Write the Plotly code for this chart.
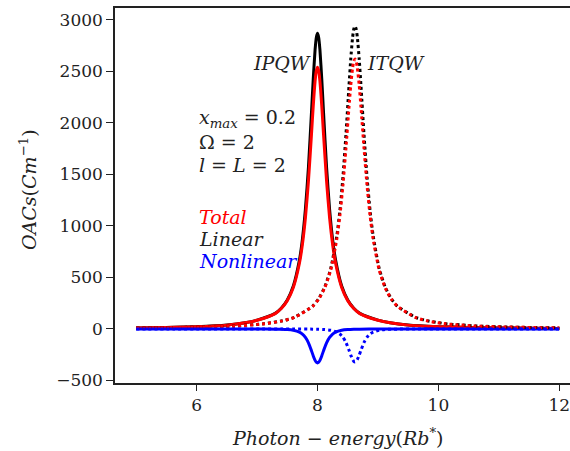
import plotly.graph_objects as go

# ---- IPQW (solid curves, peak near 8.0) ----
x_ipqw = [5.0, 5.5, 6.0, 6.5, 6.8, 7.0, 7.3, 7.4, 7.5, 7.6, 7.7, 7.75, 7.8, 7.85, 7.9,
          7.93, 7.96, 7.98, 8.0, 8.02, 8.04, 8.07, 8.1, 8.15, 8.2, 8.25, 8.3, 8.4,
          8.5, 8.6, 8.7, 9.0, 9.2, 9.5, 10.0, 10.5, 11.0, 11.5, 12.0]
linear_ipqw = [10, 14, 22, 38, 60, 85, 151, 201, 281, 416, 666, 870, 1162, 1570, 2098,
               2431, 2711, 2828, 2870, 2828, 2711, 2431, 2098, 1570, 1162, 870, 666, 416,
               281, 201, 151, 85, 60, 38, 22, 14, 10, 7, 5]
nonlinear_ipqw = [0, 0, -1, -1, -1, -1, -2, -3, -6, -13, -31, -50, -83, -135, -211,
                  -262, -305, -323, -330, -323, -305, -262, -211, -135, -83, -50, -31, -13,
                  -6, -3, -2, -1, -1, -1, 0, 0, 0, 0, 0]
total_ipqw = [10, 14, 21, 37, 59, 84, 149, 198, 275, 403, 635, 820, 1079, 1435, 1887,
              2169, 2406, 2505, 2540, 2505, 2406, 2169, 1887, 1435, 1079, 820, 635, 403,
              275, 198, 149, 84, 59, 37, 22, 14, 10, 7, 5]

# ---- ITQW (dotted curves, peak near 8.62) ----
x_itqw = [5.0, 5.62, 6.12, 6.62, 7.12, 7.42, 7.62, 7.92, 8.02, 8.12, 8.22, 8.32, 8.37,
          8.42, 8.47, 8.52, 8.55, 8.58, 8.60, 8.62, 8.64, 8.66, 8.69, 8.72, 8.77, 8.82,
          8.87, 8.92, 9.02, 9.12, 9.22, 9.32, 9.62, 9.82, 10.12, 10.62, 11.12, 11.62, 12.0]
linear_itqw = [9, 13, 19, 29, 51, 79, 113, 222, 294, 406, 588, 906, 1147,
               1470, 1882, 2352, 2620, 2827, 2911, 2940, 2911, 2827, 2620, 2352, 1882, 1470,
               1147, 906, 588, 406, 294, 222, 113, 79, 51, 29, 19, 13, 10]
nonlinear_itqw = [0, 0, 0, -1, -1, -1, -1, -2, -3, -6, -13, -30, -49,
                  -80, -131, -205, -254, -296, -314, -320, -314, -296, -254, -205, -131, -80,
                  -49, -30, -13, -6, -3, -2, -1, -1, -1, 0, 0, 0, 0]
total_itqw = [9, 13, 19, 28, 50, 78, 112, 220, 291, 400, 575, 876, 1098,
              1390, 1751, 2147, 2366, 2531, 2597, 2620, 2597, 2531, 2366, 2147, 1751, 1390,
              1098, 876, 575, 400, 291, 220, 112, 78, 50, 28, 19, 13, 10]

x_ticks = [6, 8, 10, 12]
y_ticks = [-500, 0, 500, 1000, 1500, 2000, 2500, 3000]

FONT = "DejaVu Serif"
LW = 3
INK = "#222222"

fig = go.Figure()
for xs, lin, tot, non, dash in [
    (x_ipqw, linear_ipqw, total_ipqw, nonlinear_ipqw, "solid"),
    (x_itqw, linear_itqw, total_itqw, nonlinear_itqw, "dot"),
]:
    fig.add_trace(go.Scatter(x=xs, y=lin, mode="lines", line=dict(color="black", width=LW, dash=dash, shape="spline", smoothing=0.6), showlegend=False))
    fig.add_trace(go.Scatter(x=xs, y=tot, mode="lines", line=dict(color="#ff0000", width=LW, dash=dash, shape="spline", smoothing=0.6), showlegend=False))
    fig.add_trace(go.Scatter(x=xs, y=non, mode="lines", line=dict(color="#0000ff", width=LW, dash=dash, shape="spline", smoothing=0.6), showlegend=False))

annots = [
    dict(x=6.9, y=2583, text="<i>IPQW</i>", color=INK),
    dict(x=8.78, y=2583, text="<i>ITQW</i>", color=INK),
    dict(x=6.0, y=2040, text="<i>x</i><sub><i>max</i></sub> = 0.2", color=INK),
    dict(x=6.0, y=1812, text="Ω = 2", color=INK),
    dict(x=6.0, y=1590, text="<i>l</i> = <i>L</i> = 2", color=INK),
    dict(x=6.0, y=1090, text="<i>Total</i>", color="#ff0000"),
    dict(x=6.0, y=876, text="<i>Linear</i>", color=INK),
    dict(x=6.0, y=662, text="<i>Nonlinear</i>", color="#0000ff"),
]
for a in annots:
    fig.add_annotation(x=a["x"], y=a["y"], text=a["text"], showarrow=False,
                       xanchor="left", yanchor="middle",
                       font=dict(family=FONT, size=19, color=a["color"]))

fig.add_annotation(xref="paper", yref="paper", x=0.488, y=-0.144,
                   text="<i>Photon</i> − <i>energy</i>(<i>Rb</i><sup>*</sup>)",
                   showarrow=False, xanchor="center", yanchor="middle",
                   font=dict(family=FONT, size=19, color=INK))
fig.add_annotation(xref="paper", yref="paper", x=-0.191, y=0.515,
                   text="<i>OACs</i>(<i>Cm</i><sup>−1</sup>)", textangle=-90,
                   showarrow=False, xanchor="center", yanchor="middle",
                   font=dict(family=FONT, size=19, color=INK))

fig.update_layout(
    width=570, height=451,
    margin=dict(l=115, r=0, t=8, b=68),
    plot_bgcolor="white", paper_bgcolor="white",
    xaxis=dict(range=[4.65, 12.177], tickvals=x_ticks, ticktext=[str(v) for v in x_ticks],
               showgrid=False, zeroline=False, showline=True, linecolor=INK, linewidth=1.5,
               mirror=True, ticks="outside", ticklen=6, tickwidth=1.3, tickcolor=INK,
               ticklabeloverflow="allow",
               tickfont=dict(family=FONT, size=17, color=INK)),
    yaxis=dict(range=[-525, 3116], tickvals=y_ticks,
               ticktext=["−500" if v < 0 else str(v) for v in y_ticks],
               showgrid=False, zeroline=False, showline=True, linecolor=INK, linewidth=1.5,
               ticks="outside", ticklen=7, tickwidth=1.3, tickcolor=INK,
               tickfont=dict(family=FONT, size=17, color=INK)),
)

fig.write_html("out.html")
